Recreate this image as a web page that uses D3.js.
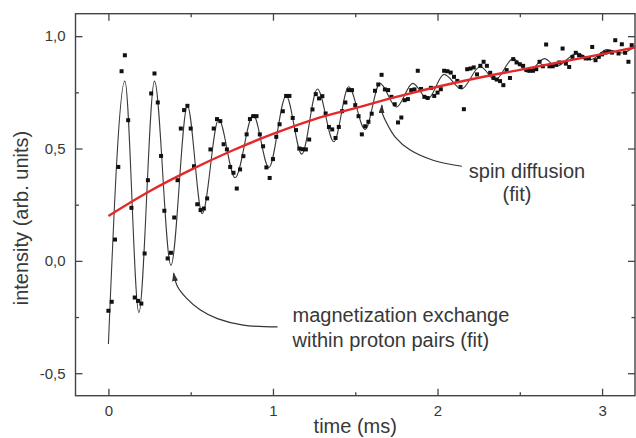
<!DOCTYPE html>
<html lang="en">
<head>
<meta charset="UTF-8">
<title>intensity vs time</title>
<script src="https://d3js.org/d3.v7.min.js"></script>
<style>
  body { margin: 0; background: #fff; }
  svg { display: block; font-family: "Liberation Sans", Arial, sans-serif; }
  .tick text { font-size: 15px; fill: #383838; }
  .tick line { stroke: #444; stroke-width: 1.3; }
  .label { font-size: 20px; fill: #383838; }
</style>
</head>
<body>
<svg width="636" height="438"></svg>
<script>
// measured points (time in ms, intensity in arb. units)
const time = [
  0.00, 0.02, 0.04, 0.06, 0.08, 0.10, 0.12, 0.14, 0.16, 0.18,
  0.20, 0.22, 0.24, 0.26, 0.28, 0.30, 0.32, 0.34, 0.36, 0.38,
  0.40, 0.42, 0.44, 0.46, 0.48, 0.50, 0.52, 0.54, 0.56, 0.58,
  0.60, 0.62, 0.64, 0.66, 0.68, 0.70, 0.72, 0.74, 0.76, 0.78,
  0.80, 0.82, 0.84, 0.86, 0.88, 0.90, 0.92, 0.94, 0.96, 0.98,
  1.00, 1.02, 1.04, 1.06, 1.08, 1.10, 1.12, 1.14, 1.16, 1.18,
  1.20, 1.22, 1.24, 1.26, 1.28, 1.30, 1.32, 1.34, 1.36, 1.38,
  1.40, 1.42, 1.44, 1.46, 1.48, 1.50, 1.52, 1.54, 1.56, 1.58,
  1.60, 1.62, 1.64, 1.66, 1.68, 1.70, 1.72, 1.74, 1.76, 1.78,
  1.80, 1.82, 1.84, 1.86, 1.88, 1.90, 1.92, 1.94, 1.96, 1.98,
  2.00, 2.02, 2.04, 2.06, 2.08, 2.10, 2.12, 2.14, 2.16, 2.18,
  2.20, 2.22, 2.24, 2.26, 2.28, 2.30, 2.32, 2.34, 2.36, 2.38,
  2.40, 2.42, 2.44, 2.46, 2.48, 2.50, 2.52, 2.54, 2.56, 2.58,
  2.60, 2.62, 2.64, 2.66, 2.68, 2.70, 2.72, 2.74, 2.76, 2.78,
  2.80, 2.82, 2.84, 2.86, 2.88, 2.90, 2.92, 2.94, 2.96, 2.98,
  3.00, 3.02, 3.04, 3.06, 3.08, 3.10, 3.12, 3.14, 3.16, 3.18
];
const intensity = [
  -0.222, -0.182, 0.095, 0.418, 0.844, 0.915, 0.626, 0.236, -0.163, -0.178,
  -0.190, 0.033, 0.359, 0.745, 0.834, 0.705, 0.467, 0.223, 0.011, 0.036,
  0.193, 0.359, 0.589, 0.671, 0.690, 0.589, 0.421, 0.252, 0.226, 0.233,
  0.278, 0.496, 0.589, 0.631, 0.622, 0.519, 0.496, 0.418, 0.392, 0.322,
  0.407, 0.466, 0.563, 0.631, 0.644, 0.644, 0.563, 0.510, 0.416, 0.369,
  0.453, 0.552, 0.608, 0.666, 0.734, 0.734, 0.636, 0.582, 0.500, 0.497,
  0.496, 0.540, 0.674, 0.742, 0.723, 0.733, 0.656, 0.596, 0.585, 0.547,
  0.596, 0.666, 0.705, 0.760, 0.760, 0.693, 0.644, 0.563, 0.599, 0.619,
  0.655, 0.757, 0.785, 0.828, 0.763, 0.760, 0.730, 0.697, 0.616, 0.638,
  0.715, 0.720, 0.760, 0.763, 0.846, 0.765, 0.730, 0.725, 0.770, 0.734,
  0.749, 0.764, 0.846, 0.844, 0.838, 0.819, 0.801, 0.774, 0.675, 0.853,
  0.856, 0.861, 0.830, 0.868, 0.886, 0.868, 0.837, 0.814, 0.807, 0.800,
  0.782, 0.849, 0.814, 0.898, 0.883, 0.875, 0.868, 0.849, 0.846, 0.846,
  0.853, 0.886, 0.866, 0.963, 0.866, 0.866, 0.874, 0.883, 0.945, 0.878,
  0.863, 0.908, 0.926, 0.915, 0.908, 0.901, 0.901, 0.952, 0.893, 0.908,
  0.919, 0.927, 0.930, 0.927, 0.982, 0.923, 0.964, 0.926, 0.886, 0.960
];

// oscillation fit, read at its turning points
const oscTime = [0.00, 0.10, 0.185, 0.28, 0.38, 0.48, 0.57, 0.67, 0.77, 0.88, 0.975,
  1.08, 1.175, 1.27, 1.37, 1.46, 1.56, 1.65, 1.75, 1.85, 1.94, 2.04, 2.145,
  2.26, 2.35, 2.46, 2.55, 2.65, 2.72, 2.85, 2.93, 3.03, 3.12, 3.20];
const oscValue = [-0.37, 0.80, -0.23, 0.80, -0.02, 0.69, 0.21, 0.63, 0.37, 0.65, 0.415,
  0.735, 0.475, 0.765, 0.53, 0.775, 0.585, 0.79, 0.685, 0.79, 0.72, 0.83, 0.765,
  0.865, 0.805, 0.90, 0.84, 0.90, 0.865, 0.925, 0.895, 0.94, 0.925, 0.955];

// spin diffusion fit
const diffTime = [0, 0.25, 0.5, 0.75, 1.0, 1.25, 1.5, 1.75, 2.0, 2.25, 2.5, 2.75, 3.0, 3.2];
const diffValue = [0.20, 0.31, 0.405, 0.49, 0.565, 0.63, 0.68, 0.73, 0.775, 0.815, 0.85, 0.885, 0.92, 0.95];

const xTicks = [0, 1, 2, 3];
const xMinor = [0.5, 1.5, 2.5];
const yTicks = [-0.5, 0, 0.5, 1.0];
const yMinor = [-0.25, 0.25, 0.75];

// annotation leader lines (data coordinates)
const spinArrow = [[2.148, 0.421], [1.973, 0.448], [1.834, 0.493], [1.743, 0.551], [1.688, 0.618], [1.664, 0.66], [1.662, 0.693]];
const exchArrow = [[1.028, -0.294], [0.819, -0.286], [0.662, -0.257], [0.559, -0.219], [0.474, -0.166], [0.419, -0.113], [0.396, -0.055]];

const svg = d3.select("svg");
const pLeft = 75.5, pRight = 635, pTop = 13.7, pBottom = 395.7;

const x = d3.scaleLinear().domain([-0.2, 3.2]).range([pLeft, pRight]);
const y = d3.scaleLinear().domain([-0.6, 1.1]).range([pBottom, pTop]);

const loc = d3.formatLocale({ decimal: ",", thousands: ".", grouping: [3], currency: ["", ""], minus: "-" });
const fmtY = loc.format(".1f");

const defs = svg.append("defs");
defs.append("clipPath").attr("id", "clip")
  .append("rect").attr("x", pLeft).attr("y", pTop).attr("width", pRight - pLeft).attr("height", pBottom - pTop);
defs.append("marker").attr("id", "head")
  .attr("markerUnits", "userSpaceOnUse")
  .attr("viewBox", "0 0 9 6").attr("markerWidth", 9).attr("markerHeight", 6)
  .attr("refX", 8).attr("refY", 3).attr("orient", "auto")
  .append("path").attr("d", "M0,0L9,3L0,6z").attr("fill", "#333");

// axes with inward ticks
function style(g) { g.select(".domain").remove(); }

svg.append("g").attr("transform", `translate(0,${pBottom})`)
  .call(d3.axisBottom(x).tickValues(xTicks).tickSize(-7).tickPadding(10).tickFormat(d3.format("d"))).call(style);
svg.append("g").attr("transform", `translate(0,${pBottom})`)
  .call(d3.axisBottom(x).tickValues(xMinor).tickSize(-3.5).tickFormat("")).call(style);
svg.append("g").attr("transform", `translate(0,${pTop})`)
  .call(d3.axisTop(x).tickValues(xTicks).tickSize(-7).tickFormat("")).call(style);
svg.append("g").attr("transform", `translate(0,${pTop})`)
  .call(d3.axisTop(x).tickValues(xMinor).tickSize(-3.5).tickFormat("")).call(style);

svg.append("g").attr("transform", `translate(${pLeft},0)`)
  .call(d3.axisLeft(y).tickValues(yTicks).tickSize(-7).tickPadding(10).tickFormat(fmtY)).call(style);
svg.append("g").attr("transform", `translate(${pLeft},0)`)
  .call(d3.axisLeft(y).tickValues(yMinor).tickSize(-3.5).tickFormat("")).call(style);
svg.append("g").attr("transform", `translate(${pRight},0)`)
  .call(d3.axisRight(y).tickValues(yTicks).tickSize(-7).tickFormat("")).call(style);
svg.append("g").attr("transform", `translate(${pRight},0)`)
  .call(d3.axisRight(y).tickValues(yMinor).tickSize(-3.5).tickFormat("")).call(style);

svg.selectAll("g").attr("font-family", null).attr("font-size", null);

svg.append("rect")
  .attr("x", pLeft).attr("y", pTop).attr("width", pRight - pLeft).attr("height", pBottom - pTop)
  .attr("fill", "none").attr("stroke", "#444").attr("stroke-width", 1.4);

const plot = svg.append("g").attr("clip-path", "url(#clip)");

// oscillation fit
plot.append("path")
  .datum(oscTime.map((t, i) => [t, oscValue[i]]))
  .attr("fill", "none").attr("stroke", "#3a3a3a").attr("stroke-width", 1.1)
  .attr("d", d3.line().x(d => x(d[0])).y(d => y(d[1])).curve(d3.curveMonotoneX));

// data squares
plot.selectAll(".pt")
  .data(time.map((t, i) => [t, intensity[i]]))
  .enter().append("rect")
  .attr("class", "pt")
  .attr("x", d => x(d[0]) - 2).attr("y", d => y(d[1]) - 2)
  .attr("width", 4).attr("height", 4)
  .attr("fill", "#111");

// spin diffusion fit
plot.append("path")
  .datum(diffTime.map((t, i) => [t, diffValue[i]]))
  .attr("fill", "none").attr("stroke", "#e4292b").attr("stroke-width", 2.4)
  .attr("d", d3.line().x(d => x(d[0])).y(d => y(d[1])).curve(d3.curveMonotoneX));

// annotations
const lead = d3.line().x(d => x(d[0])).y(d => y(d[1])).curve(d3.curveCatmullRom);
[spinArrow, exchArrow].forEach(a => {
  svg.append("path").attr("d", lead(a))
    .attr("fill", "none").attr("stroke", "#333").attr("stroke-width", 1.2)
    .attr("marker-end", "url(#head)");
});

svg.append("text").attr("class", "label").attr("x", 527).attr("y", 177.5)
  .attr("text-anchor", "middle").text("spin diffusion");
svg.append("text").attr("class", "label").attr("x", 517).attr("y", 201)
  .attr("text-anchor", "middle").text("(fit)");
svg.append("text").attr("class", "label").attr("x", 292.5).attr("y", 321.5)
  .text("magnetization exchange");
svg.append("text").attr("class", "label").attr("x", 292.5).attr("y", 346.5)
  .text("within proton pairs (fit)");

// axis titles
svg.append("text").attr("class", "label").attr("x", (pLeft + pRight) / 2).attr("y", 433)
  .attr("text-anchor", "middle").text("time (ms)");
svg.append("text").attr("class", "label")
  .attr("transform", `translate(28,218) rotate(-90)`)
  .attr("text-anchor", "middle").text("intensity (arb. units)");
</script>
</body>
</html>
